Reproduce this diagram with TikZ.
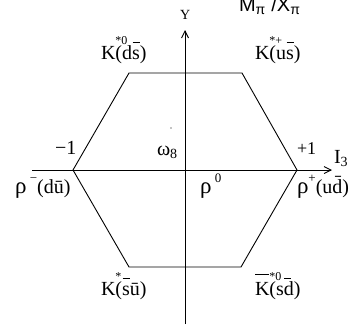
\documentclass[tikz,border=0pt]{standalone}
\usepackage{fontspec}
\setmainfont{Liberation Serif}
\newfontfamily\sansfam{Liberation Sans}
\usepackage{tikz}
\usetikzlibrary{arrows.meta,positioning}
\newcommand{\hibar}[1]{\rlap{\hspace{0.03em}\raisebox{0.8em}{\rule{0.34em}{0.6pt}}}#1}
\newcommand{\kst}[1]{\rlap{\raisebox{0.72em}{\fontsize{12}{12}\selectfont #1}}}
\newcommand{\kbar}{\rlap{\raisebox{1.0em}{\rule{0.72em}{0.6pt}}}}
\newcommand{\rh}{{\fontsize{23}{23}\selectfont ρ}}
\newcommand{\rsup}[1]{\raisebox{0.55em}{\fontsize{13}{13}\selectfont #1}}

\begin{document}
\begin{tikzpicture}[x=1pt,y=-1pt,>={Straight Barb[length=7pt,width=7pt]},
  font=\fontsize{20}{22}\selectfont,
  lbl/.style={anchor=base west,inner sep=0pt,outer sep=0pt}]
\useasboundingbox (0,0) rectangle (352,324);
% axes
\coordinate (xl) at (32,170);
\coordinate (xr) at (332,170);
\coordinate (yb) at (185,324);
\coordinate (yt) at (185,30);
\draw[->,line width=0.9pt] (xl)--(xr);
\draw[->,line width=0.9pt] (yb)--(yt);
% octet hexagon
\coordinate (L) at (73,170);
\coordinate (TL) at (129,73);
\coordinate (TR) at (242,73);
\coordinate (R) at (297,170);
\coordinate (BR) at (241,267);
\coordinate (BL) at (129,267);
\draw[line width=0.9pt] (L)--(TL)--(TR)--(R)--(BR)--(BL)--cycle;
\coordinate (dot) at (171,128);
\fill (dot) circle (0.6pt);
% axis labels
\node[lbl,font=\fontsize{14}{14}\selectfont] (ylab) at (180,19) {Y};
\node[lbl] (ilab) at (334,163) {I\textsubscript{3}};
\node[lbl,font=\sansfam\fontsize{20}{20}\selectfont] (title) at (239,11) {M\textsubscript{π} /X\textsubscript{π}};
\node[lbl] (mone) at (55,154) {−1};
\node[lbl,font=\fontsize{18}{20}\selectfont] (pone) at (297,154) {+1};
% vector mesons
\node[lbl] (kdl) at (101,59) {K\kst{*0}(d\hibar{s})};
\node[lbl] (kur) at (255,59) {K\kst{*+}(u\hibar{s})};
\node[lbl] (om) at (157,155) {ω\textsubscript{8}};
\node[lbl] (rhom) at (15,193) {\rh\,\rsup{−}(dū)};
\node[lbl] (rhoz) at (200,193) {\rh\,\rsup{0}};
\node[lbl] (rhop) at (297,193) {\rh\rsup{+}(u\={d})};
\node[lbl] (ksl) at (101,295) {K\kst{*}(\hibar{s}ū)};
\node[lbl] (ksr) at (255,295) {\kbar K\kst{*0}(s\hibar{d})};
\end{tikzpicture}
\end{document}
